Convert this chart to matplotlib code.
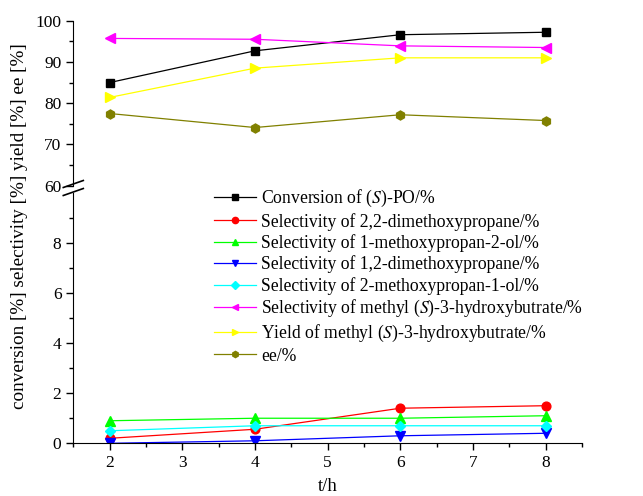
import numpy as np
import matplotlib.pyplot as plt
from matplotlib.ticker import MultipleLocator

plt.rcParams['font.family'] = 'Liberation Serif'
plt.rcParams['mathtext.fontset'] = 'stix'

t = [2, 4, 6, 8]

# upper panel series
conversion = [85.0, 92.7, 96.6, 97.2]
sel_mhb = [95.7, 95.5, 93.9, 93.5]
yield_mhb = [81.4, 88.5, 91.0, 91.0]
ee = [77.5, 74.1, 77.2, 75.8]

# lower panel series
sel_22dmp = [0.2, 0.56, 1.4, 1.5]
sel_1m2ol = [0.9, 1.0, 1.0, 1.1]
sel_12dmp = [0.0, 0.1, 0.3, 0.4]
sel_2m1ol = [0.5, 0.7, 0.7, 0.7]

fig = plt.figure(figsize=(6.43, 4.96), dpi=100)
left, right = 73.3 / 643, 582 / 643
ax_top = fig.add_axes([left, 1 - 185.7 / 496, right - left, (185.7 - 20.7) / 496])
ax_bot = fig.add_axes([left, 1 - 443.3 / 496, right - left, (443.3 - 192.7) / 496])

lw = 0.9
h = {}
h['conv'], = ax_top.plot(t, conversion, '-s', color='black', lw=lw, ms=5.5,
                         label='Conversion of ($\\mathit{S}$)-PO/%')
h['mhb'], = ax_top.plot(t, sel_mhb, '-<', color='magenta', lw=lw, ms=7.5,
                        label='Selectivity of methyl ($\\mathit{S}$)-3-hydroxybutrate/%')
h['yield'], = ax_top.plot(t, yield_mhb, '->', color='yellow', lw=lw, ms=7.5,
                          label='Yield of methyl ($\\mathit{S}$)-3-hydroxybutrate/%')
h['ee'], = ax_top.plot(t, ee, '-h', color='#808000', lw=lw, ms=6.5,
                       label='ee/%')

h['22'], = ax_bot.plot(t, sel_22dmp, '-o', color='red', lw=lw, ms=6.3,
                       label='Selectivity of 2,2-dimethoxypropane/%')
h['1m'], = ax_bot.plot(t, sel_1m2ol, '-^', color='#00ff00', lw=lw, ms=7,
                       label='Selectivity of 1-methoxypropan-2-ol/%')
h['12'], = ax_bot.plot(t, sel_12dmp, '-v', color='blue', lw=lw, ms=7,
                       label='Selectivity of 1,2-dimethoxypropane/%')
h['2m'], = ax_bot.plot(t, sel_2m1ol, '-D', color='cyan', lw=lw, ms=5,
                       label='Selectivity of 2-methoxypropan-1-ol/%')

for ax in (ax_top, ax_bot):
    ax.set_xlim(1.5, 8.5)
    ax.spines['top'].set_visible(False)
    ax.spines['right'].set_visible(False)
    ax.tick_params(which='both', direction='out', labelsize=12.5, width=1)
    ax.tick_params(which='major', length=5)
    ax.tick_params(which='minor', length=3)
    ax.xaxis.set_major_locator(MultipleLocator(1))
    ax.xaxis.set_minor_locator(MultipleLocator(0.5))
    ax.patch.set_alpha(0)

ax_top.set_ylim(60, 100)
ax_top.yaxis.set_major_locator(MultipleLocator(10))
ax_top.yaxis.set_minor_locator(MultipleLocator(5))
ax_top.spines['bottom'].set_visible(False)
ax_top.tick_params(axis='x', which='both', bottom=False, labelbottom=False)

ax_bot.set_ylim(0, 10)
ax_bot.set_yticks([0, 2, 4, 6, 8])
ax_bot.set_yticks([1, 3, 5, 7, 9], minor=True)
ax_bot.spines['left'].set_bounds(0, 10)

# break marks on the y axis
for yy in (187.5, 195.5):
    y0 = 1 - yy / 496
    fig.add_artist(plt.Line2D([left - 10 / 643, left + 10 / 643],
                              [y0, y0 + 7 / 496], color='black', lw=1.2))

order = ['conv', '22', '1m', '12', '2m', 'mhb', 'yield', 'ee']
leg = fig.legend([h[k] for k in order], [h[k].get_label() for k in order],
                 loc='upper left', bbox_to_anchor=(207 / 643, 1 - 181 / 496),
                 frameon=False, fontsize=12.7, handlelength=2.4,
                 labelspacing=0.2, handletextpad=0.25, borderaxespad=0)
for lh in leg.legend_handles:
    lh.set_markersize(4.5)

ax_bot.set_xlabel('t/h', fontsize=13.5, labelpad=5)
fig.text(0.030, 0.544, 'conversion [%] selectivity [%] yield [%] ee [%]',
         rotation=90, ha='center', va='center', fontsize=13.8)

fig.savefig('out.png', dpi=100)
